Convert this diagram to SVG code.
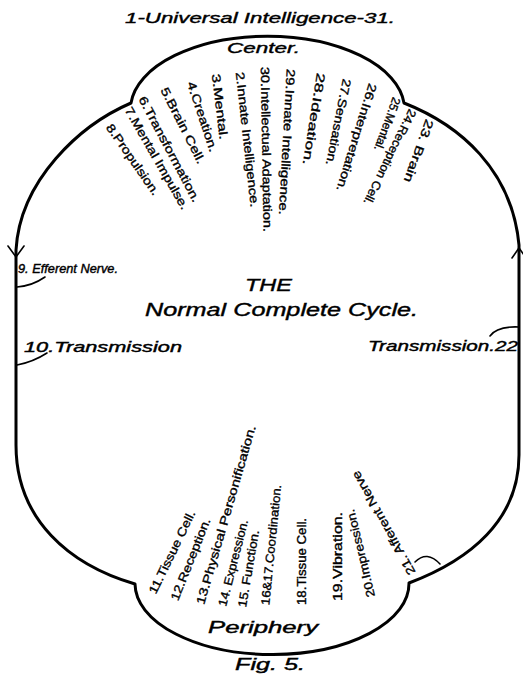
<svg xmlns="http://www.w3.org/2000/svg" width="523" height="675" viewBox="0 0 523 675">
<style>
.o{fill:none;stroke:#000;stroke-width:3;stroke-linejoin:round;stroke-linecap:round}
.p{fill:none;stroke:#000;stroke-width:1.6;stroke-linecap:round}
.h{font-family:"Liberation Sans",Arial,sans-serif;font-style:italic;fill:#000;stroke:#000;stroke-width:0.4}
.l{font-family:"Liberation Sans",Arial,sans-serif;font-size:12px;fill:#000;stroke:#000;stroke-width:0.35}
</style>
<rect width="523" height="675" fill="#fff"/>
<g id="outline">
<path class="o" d="M131,103 A137,73 0 0 1 404,103 C460,125 512,170 519,245 L519,455 C519,520 470,560 409,583 A137,71 0 0 1 135,584 C70,565 16,520 16,445 L16,250 C20,180 80,125 131,103 Z"/>
</g>
<g id="connectors">
<path class="p" d="M8,246 L16,257 L24,246" stroke-width="2"/>
<path class="p" d="M512,258 L519,248 L526,258" stroke-width="2"/>
<path class="p" d="M45,277 Q32,286 17,287"/>
<path class="p" d="M47,353 Q33,362 17,365"/>
<path class="p" d="M490,336 Q497,326 519,327"/>
<path class="p" d="M415,562 Q427,550 440,564"/>
</g>
<g id="title"><text class="h" x="125" y="23" font-size="15" textLength="270" lengthAdjust="spacingAndGlyphs">1-Universal Intelligence-31.</text></g>
<g id="center"><text class="h" x="227" y="53" font-size="15" textLength="73" lengthAdjust="spacingAndGlyphs">Center.</text></g>
<g id="heading">
<text class="h" x="245" y="291" font-size="17" textLength="47" lengthAdjust="spacingAndGlyphs">THE</text>
<text class="h" x="145" y="316" font-size="18" textLength="273" lengthAdjust="spacingAndGlyphs">Normal Complete Cycle.</text>
</g>
<g id="n9"><text class="h" x="18" y="273" font-size="12" textLength="100" lengthAdjust="spacingAndGlyphs">9. Efferent Nerve.</text></g>
<g id="n10"><text class="h" x="24" y="352" font-size="14" textLength="158" lengthAdjust="spacingAndGlyphs">10.Transmission</text></g>
<g id="n22"><text class="h" x="368" y="351" font-size="14" textLength="150" lengthAdjust="spacingAndGlyphs">Transmission.22</text></g>
<g id="periphery"><text class="h" x="208" y="633" font-size="16" textLength="110" lengthAdjust="spacingAndGlyphs">Periphery</text></g>
<g id="fig"><text class="h" x="235" y="670" font-size="16" textLength="70" lengthAdjust="spacingAndGlyphs">Fig. 5.</text></g>
<g id="center-labels">
<text class="l" transform="translate(235.8,72.5) rotate(83.7)" textLength="136" lengthAdjust="spacingAndGlyphs">2.Innate Intelligence.</text>
<text class="l" transform="translate(211.8,74.5) rotate(83)" textLength="66" lengthAdjust="spacingAndGlyphs">3.Mental.</text>
<text class="l" transform="translate(187,83.3) rotate(71.6)" textLength="73" lengthAdjust="spacingAndGlyphs">4.Creation.</text>
<text class="l" transform="translate(160.3,89.9) rotate(63.1)" textLength="84" lengthAdjust="spacingAndGlyphs">5.Brain Cell.</text>
<text class="l" transform="translate(138.3,99) rotate(62.1)" textLength="118" lengthAdjust="spacingAndGlyphs">6.Transformation.</text>
<text class="l" transform="translate(124.4,110.1) rotate(60.1)" textLength="116" lengthAdjust="spacingAndGlyphs">7.Mental Impulse.</text>
<text class="l" transform="translate(105.6,127.4) rotate(55.2)" textLength="84" lengthAdjust="spacingAndGlyphs">8.Propulsion.</text>
<text class="l" transform="translate(260.8,67.1) rotate(89)" textLength="165" lengthAdjust="spacingAndGlyphs">30.Intellectual Adaptation.</text>
<text class="l" transform="translate(286.8,68.8) rotate(93.1)" textLength="146" lengthAdjust="spacingAndGlyphs">29.Innate Intelligence.</text>
<text class="l" transform="translate(316.9,72.4) rotate(98.7)" textLength="93" lengthAdjust="spacingAndGlyphs">28.Ideation.</text>
<text class="l" transform="translate(342.9,78.2) rotate(101.2)" textLength="88" lengthAdjust="spacingAndGlyphs">27.Sensation.</text>
<text class="l" transform="translate(369,82.8) rotate(107)" textLength="112" lengthAdjust="spacingAndGlyphs">26.Interpretation.</text>
<text class="l" transform="translate(393.1,96.6) rotate(110)" textLength="56" lengthAdjust="spacingAndGlyphs">25.Mental.</text>
<text class="l" transform="translate(409.2,108.2) rotate(116)" textLength="105" lengthAdjust="spacingAndGlyphs">24.Reception Cell.</text>
<text class="l" transform="translate(426.1,118.6) rotate(110)" textLength="66" lengthAdjust="spacingAndGlyphs">23. Brain</text>
</g>
<g id="periphery-labels">
<text class="l" transform="translate(155.8,594.8) rotate(-64)" textLength="91" lengthAdjust="spacingAndGlyphs">11.Tissue Cell.</text>
<text class="l" transform="translate(177.9,601.6) rotate(-68.1)" textLength="88" lengthAdjust="spacingAndGlyphs">12.Reception.</text>
<text class="l" transform="translate(204,605.2) rotate(-73.8)" textLength="186" lengthAdjust="spacingAndGlyphs">13.Physical Personification.</text>
<text class="l" transform="translate(226.1,607) rotate(-75.6)" textLength="89" lengthAdjust="spacingAndGlyphs">14. Expression.</text>
<text class="l" transform="translate(246.1,607.7) rotate(-80.4)" textLength="78" lengthAdjust="spacingAndGlyphs">15. Function.</text>
<text class="l" transform="translate(269.2,605.4) rotate(-84.3)" textLength="121" lengthAdjust="spacingAndGlyphs">16&amp;17.Coordination.</text>
<text class="l" transform="translate(306.2,605) rotate(-90)" textLength="87" lengthAdjust="spacingAndGlyphs">18.Tissue Cell.</text>
<text class="l" transform="translate(342.2,601) rotate(-90)" textLength="89" lengthAdjust="spacingAndGlyphs">19.Vibration.</text>
<text class="l" transform="translate(375.1,596) rotate(-103.6)" textLength="90" lengthAdjust="spacingAndGlyphs">20.Impression.</text>
<text class="l" transform="translate(415.7,572) rotate(-119.2)" textLength="117" lengthAdjust="spacingAndGlyphs">21. Afferent Nerve</text>
</g>
</svg>
